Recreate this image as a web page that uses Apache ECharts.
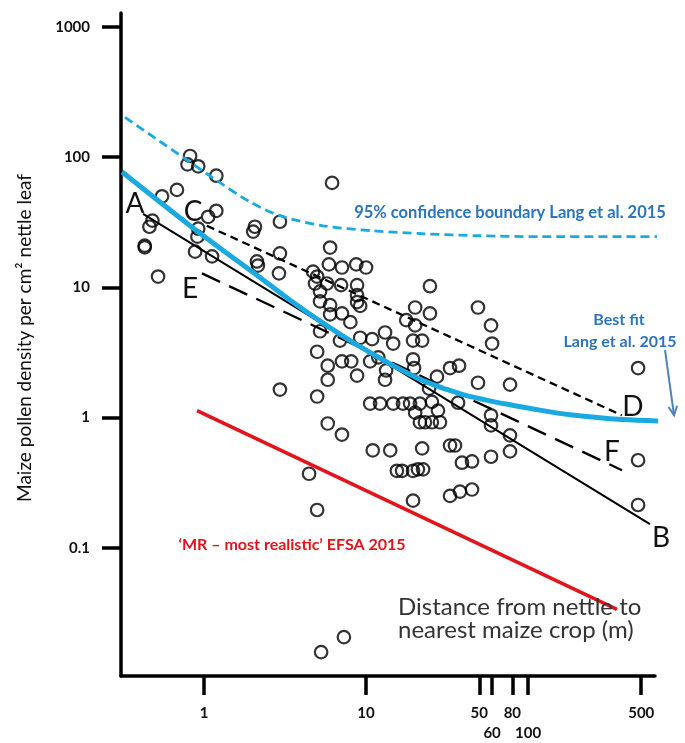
<!DOCTYPE html>
<html>
<head>
<meta charset="utf-8">
<script src="https://cdn.jsdelivr.net/npm/echarts@6/dist/echarts.min.js"></script>
<style>html,body{margin:0;padding:0;background:#fff}#c{width:685px;height:743px}</style>
</head>
<body>
<div id="c"></div>
<script>
// ---- data (distance m, pollen density per cm2) ----
const xTickValues = [1, 10, 50, 60, 80, 100, 500];
const yTickValues = [0.1, 1, 10, 100, 1000];

const observations = [
  [0.82,102],[0.92,85],[0.79,88],[1.19,72],[0.68,56],[0.55,50],[1.19,38.7],[1.06,34.8],
  [0.92,28.2],[0.91,24.5],[0.88,18.8],[1.12,17.3],[0.48,32.5],[0.46,29.2],[0.43,20.9],[0.43,20.3],
  [0.52,12.1],[2.06,29.2],[2.01,26.8],[2.94,31.9],[2.94,18.2],[2.12,15.8],[2.15,14.7],[2.90,12.8],
  [6.17,63.4],
  [6.0,20.2],[5.9,15.0],[7.1,14.2],[8.7,15.0],[10.0,14.2],[4.71,13.2],[4.99,12.1],[4.84,10.7],
  [5.74,10.7],[7.01,10.4],[8.8,10.4],[8.8,8.7],[5.2,9.3],[5.2,7.8],[6.0,7.3],[8.8,7.7],[9.2,7.2],
  [7.1,6.3],[6.0,6.2],[8.0,5.4],[5.2,4.6],[6.9,3.9],[9.2,4.1],[10.9,4.0],[13.1,4.5],[14.7,3.7],
  [4.99,3.2],[5.8,2.5],[7.1,2.7],[8.1,2.7],[8.8,2.1],[10.6,2.7],[11.9,2.9],[13.3,2.3],[13.1,1.95],
  [5.8,1.95],[4.99,1.45],[24.8,10.2],[20.1,7.0],[17.7,5.6],[20.1,5.1],[24.8,6.3],[19.5,3.9],
  [22.2,3.9],[19.5,2.8],[19.8,2.4],[27.4,2.06],[24.5,1.67],[33.0,2.4],[37.5,2.5],[49.1,7.0],
  [59.1,5.1],[60.0,3.7],[49.1,1.85],[77.4,1.79],[37.0,1.30],[10.6,1.28],[12.2,1.28],[14.7,1.28],
  [16.9,1.28],[18.7,1.28],[21.5,1.28],[25.5,1.32],[27.8,1.13],[20.1,1.09],[21.5,0.92],[23.1,0.92],
  [25.5,0.92],[28.6,0.92],[59.1,1.04],[59.1,0.87],[77.4,0.73],[77.4,0.55],[59.1,0.50],[5.8,0.90],
  [7.1,0.74],[11.0,0.56],[14.1,0.56],[22.2,0.58],[33.0,0.61],[35.4,0.61],[39.1,0.45],[45.1,0.46],
  [15.5,0.39],[16.7,0.39],[19.5,0.39],[20.9,0.40],[22.5,0.40],[2.94,1.64],[4.45,0.37],[4.99,0.195],
  [19.5,0.23],[33.0,0.25],[38.0,0.27],[45.1,0.28],[5.28,0.0158],[7.3,0.0206],
  [478,2.4],[478,0.47],[478,0.213]
];

const lineAB = [[0.42,36.7],[566,0.152]];
const lineCD = [[1.04,29.7],[380,1.04]];
const lineEF = [[0.97,12.8],[380,0.394]];
const lineMR = [[0.905,1.13],[354,0.0336]];
const bestFit = [[0.312,76.8],[0.82,29.7],[1.31,19.2],[2.12,12.4],[3.40,7.96],[5.43,5.31],
  [8.8,3.61],[14.1,2.58],[22.5,1.92],[39.7,1.50],[70.1,1.28],[114,1.15],[182,1.05],[380,0.966],[930,0.93]];
const confidence95 = [[0.325,202],[0.499,140],[0.785,94.9],[1.26,63.4],[1.92,45.3],[2.94,35.5],
  [5.43,29.7],[11.0,27.2],[22.5,25.8],[50.6,24.9],[119,24.5],[930,24.5]];
const arrowFrom = [701, 3.3];
const arrowTo = [797, 1.04];

const FONT = 'Lato, "Open Sans", sans-serif';
const chart = echarts.init(document.getElementById('c'), null, {renderer: 'canvas'});

function textEl(id, text, x, y, size, color, weight, extra) {
  return Object.assign({
    id: id, type: 'text', x: x, y: y, silent: true, z: 100,
    style: {text: text, font: (weight || 'normal') + ' ' + size + 'px ' + FONT, fill: color,
      align: 'center', verticalAlign: 'middle', lineHeight: size * 1.1}
  }, extra || {});
}

const blue = '#1ba9e1';
const textBlue = '#2b74c0';
chart.setOption({
  animation: false,
  grid: {left: 121, right: 30, top: 13, bottom: 63},
  xAxis: {
    type: 'log', logBase: 10, min: 0.307, max: 608,
    axisLine: {show: true, lineStyle: {color: '#000', width: 3.5}},
    axisTick: {show: true, length: 19, lineStyle: {color: '#000', width: 3.5}, customValues: xTickValues},
    axisLabel: {
      customValues: xTickValues, margin: 27, color: '#111', fontSize: 15, fontWeight: 'bold', fontFamily: FONT,
      lineHeight: 20, verticalAlign: 'top',
      formatter: v => (Math.abs(v - 60) < 1e-6 || Math.abs(v - 100) < 1e-6) ? '\n' + v : String(v)
    },
    splitLine: {show: false}, minorTick: {show: false}
  },
  yAxis: {
    type: 'log', logBase: 10, min: 0.01035, max: 1279,
    axisLine: {show: true, lineStyle: {color: '#000', width: 3.5}},
    axisTick: {show: true, length: 19, lineStyle: {color: '#000', width: 3.5}, customValues: yTickValues},
    axisLabel: {customValues: yTickValues, margin: 31, color: '#111', fontSize: 15, fontWeight: 'bold', fontFamily: FONT,
      formatter: v => String(v)},
    splitLine: {show: false}, minorTick: {show: false}
  },
  series: [
    {type: 'scatter', data: observations, symbol: 'circle', symbolSize: 12.5, z: 2,
      itemStyle: {color: 'rgba(255,255,255,0)', borderColor: '#000', borderWidth: 2.2}, silent: true},
    {type: 'line', data: lineAB, symbol: 'none', clip: false, z: 3,
      lineStyle: {color: '#000', width: 2}},
    {type: 'line', data: lineCD, symbol: 'none', clip: false, z: 3,
      lineStyle: {color: '#000', width: 2.3, type: [8, 5]}},
    {type: 'line', data: lineEF, symbol: 'none', clip: false, z: 3,
      lineStyle: {color: '#000', width: 2.3, type: [20, 10]}},
    {type: 'line', data: lineMR, symbol: 'none', clip: false, z: 3,
      lineStyle: {color: '#e3141b', width: 3.6}},
    {type: 'line', data: confidence95, symbol: 'none', smooth: 0.3, clip: false, z: 4,
      lineStyle: {color: blue, width: 2.8, type: [9, 5]}},
    {type: 'line', data: bestFit, symbol: 'none', smooth: 0.3, clip: false, z: 5,
      lineStyle: {color: blue, width: 5}}
  ]
});

// annotation arrow pointing at the best-fit curve (positioned from data coordinates)
const p0 = chart.convertToPixel({gridIndex: 0}, arrowFrom);
const p1 = chart.convertToPixel({gridIndex: 0}, arrowTo);
const ang = Math.atan2(p1[1] - p0[1], p1[0] - p0[0]);
const head = 10, spread = 0.45;
chart.setOption({
  graphic: [
    textEl('ytitle', 'Maize pollen density per cm² nettle leaf', 25, 338, 19, '#111', 'normal', {rotation: Math.PI / 2}),
    textEl('conf', '95% confidence boundary Lang et al. 2015', 510, 213, 16.5, textBlue, 'bold'),
    textEl('bf1', 'Best fit', 619, 320, 16, textBlue, 'bold'),
    textEl('bf2', 'Lang et al. 2015', 620, 342, 16, textBlue, 'bold'),
    textEl('mr', '\u2018MR \u2013 most realistic\u2019 EFSA 2015', 292, 545, 16, '#e3141b', 'bold'),
    {id: 'xtitle', type: 'text', x: 398, y: 619, silent: true, z: 100,
      style: {text: 'Distance from nettle to\nnearest maize crop (m)', font: '24px ' + FONT, fill: '#333',
        align: 'left', verticalAlign: 'middle', lineHeight: 23}},
    textEl('lA', 'A', 135, 204, 28, '#111'),
    textEl('lC', 'C', 193, 212, 28, '#111'),
    textEl('lE', 'E', 190, 289, 28, '#111'),
    textEl('lD', 'D', 633, 407, 28, '#111'),
    textEl('lF', 'F', 612, 452, 28, '#111'),
    textEl('lB', 'B', 661, 538, 28, '#111'),
    {id: 'arrowShaft', type: 'line', silent: true, z: 101,
      shape: {x1: p0[0], y1: p0[1], x2: p1[0], y2: p1[1]},
      style: {stroke: '#4f81bd', lineWidth: 2}},
    {id: 'arrowHead', type: 'polyline', silent: true, z: 101,
      shape: {points: [
        [p1[0] - head * Math.cos(ang - spread), p1[1] - head * Math.sin(ang - spread)],
        [p1[0], p1[1]],
        [p1[0] - head * Math.cos(ang + spread), p1[1] - head * Math.sin(ang + spread)]
      ]},
      style: {stroke: '#4f81bd', lineWidth: 2, fill: null}}
  ]
});
</script>
</body>
</html>
